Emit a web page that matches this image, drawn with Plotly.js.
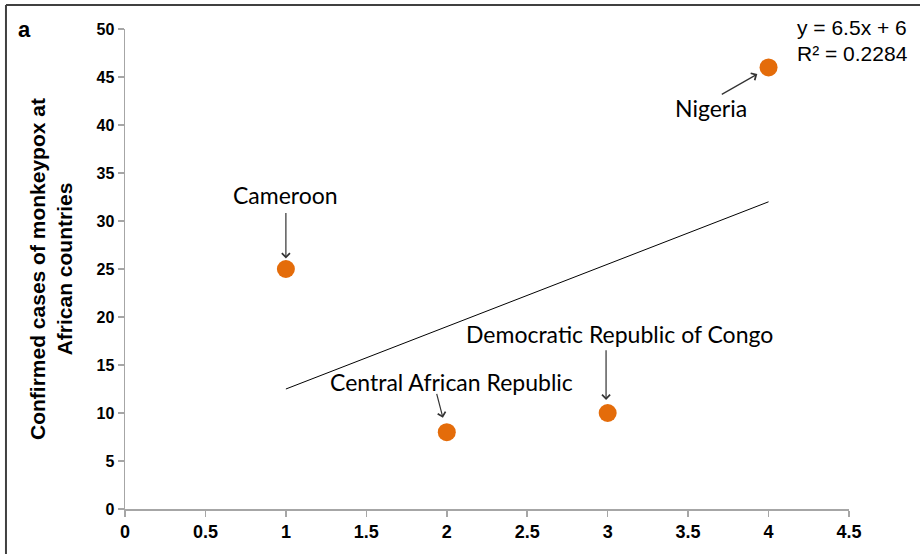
<!DOCTYPE html>
<html>
<head>
<meta charset="utf-8">
<script src="https://cdn.plot.ly/plotly-3.0.1.min.js"></script>
<style>html,body{margin:0;padding:0;background:#fff;}#chart{width:920px;height:554px;}</style>
</head>
<body>
<div id="chart"></div>
<script>
// Data
const countries = ["Cameroon", "Central African Republic", "Democratic Republic of Congo", "Nigeria"];
const xValues = [1, 2, 3, 4];
const cases = [25, 8, 10, 46];
const slope = 6.5;
const intercept = 6;
const rSquared = 0.2284;
const xTicks = [0, 0.5, 1, 1.5, 2, 2.5, 3, 3.5, 4, 4.5];
const yTicks = [0, 5, 10, 15, 20, 25, 30, 35, 40, 45, 50];

// label text positions / arrow (tail, head) in data units
const labelPos = [[1.0, 32.7], [2.03, 13.2], [3.076, 18.2], [3.64, 41.8]];
const arrowTail = [[1.0, 31.0], [1.935, 12.15], [2.99, 16.7], [3.70, 43.1]];
const arrowHead = [[1.0, 26.1], [1.976, 9.5], [2.99, 11.35], [3.93, 45.3]];

const trendX = [xValues[0], xValues[xValues.length - 1]];
const trendY = trendX.map(x => slope * x + intercept);

const traces = [
  {
    x: trendX, y: trendY, type: "scatter", mode: "lines",
    line: {color: "#000000", width: 1}, hoverinfo: "skip", showlegend: false
  },
  {
    x: xValues, y: cases, type: "scatter", mode: "markers",
    marker: {color: "#E46C0A", size: 18}, text: countries, showlegend: false
  }
];

const labelFont = {family: "Lato, 'Open Sans', sans-serif", size: 23, color: "#000"};
const annotations = [];
countries.forEach((c, i) => {
  annotations.push({
    x: labelPos[i][0], y: labelPos[i][1], xref: "x", yref: "y",
    text: c, showarrow: false, font: labelFont, xanchor: "center", yanchor: "middle"
  });
  annotations.push({
    x: arrowHead[i][0], y: arrowHead[i][1], ax: arrowTail[i][0], ay: arrowTail[i][1],
    xref: "x", yref: "y", axref: "x", ayref: "y", text: "", showarrow: true,
    arrowhead: 4, arrowsize: 1.3, arrowwidth: 1.2, arrowcolor: "#333"
  });
});
annotations.push({
  xref: "paper", yref: "paper", x: 0.926, y: 1.004, xanchor: "left", yanchor: "middle",
  text: "y = " + slope + "x + " + intercept, showarrow: false,
  font: {family: "Liberation Sans, Arial, sans-serif", size: 21, color: "#000"}
});
annotations.push({
  xref: "paper", yref: "paper", x: 0.926, y: 0.950, xanchor: "left", yanchor: "middle",
  text: "R² = " + rSquared, showarrow: false,
  font: {family: "Liberation Sans, Arial, sans-serif", size: 21, color: "#000"}
});
annotations.push({
  xref: "paper", yref: "paper", x: -0.150, y: 1.0, xanchor: "left", yanchor: "middle",
  text: "<b>a</b>", showarrow: false,
  font: {family: "Liberation Sans, Arial, sans-serif", size: 22, color: "#000"}
});

const layout = {
  width: 920, height: 554,
  margin: {l: 125, r: 71, t: 29, b: 45, pad: 0},
  paper_bgcolor: "#fff", plot_bgcolor: "#fff",
  showlegend: false,
  xaxis: {
    range: [0, 4.5], tickvals: xTicks, ticktext: xTicks.map(String),
    showgrid: false, zeroline: false, showline: true, linecolor: "#A6A6A6", linewidth: 1.5,
    ticks: "outside", ticklen: 6, tickcolor: "#A6A6A6", tickwidth: 1.5,
    tickfont: {family: "'Liberation Sans Narrow', 'Arial Narrow', 'Liberation Sans', Arial, sans-serif", size: 18, color: "#000", weight: "bold"},
    fixedrange: true
  },
  yaxis: {
    range: [0, 50], tickvals: yTicks, ticktext: yTicks.map(String),
    showgrid: false, zeroline: false, showline: true, linecolor: "#A6A6A6", linewidth: 1.5,
    ticks: "outside", ticklen: 6, tickcolor: "#A6A6A6", tickwidth: 1.5,
    tickfont: {family: "'Liberation Sans', Arial, sans-serif", size: 16, color: "#000", weight: "bold"},
    title: {
      text: "<b>Confirmed cases of monkeypox at<br>African countries</b>",
      font: {family: "'Liberation Sans', Arial, sans-serif", size: 21, color: "#000"},
      standoff: 18
    },
    automargin: false,
    fixedrange: true
  },
  annotations: annotations,
  shapes: [
    {type: "line", xref: "paper", yref: "paper", x0: -0.1644, x1: 1.1, y0: 1.05, y1: 1.05, line: {color: "#404040", width: 2}},
    {type: "line", xref: "paper", yref: "paper", x0: -0.1644, x1: -0.1644, y0: 1.05, y1: -0.1, line: {color: "#404040", width: 2}}
  ]
};

Plotly.newPlot("chart", traces, layout, {displayModeBar: false, staticPlot: true});
</script>
</body>
</html>
